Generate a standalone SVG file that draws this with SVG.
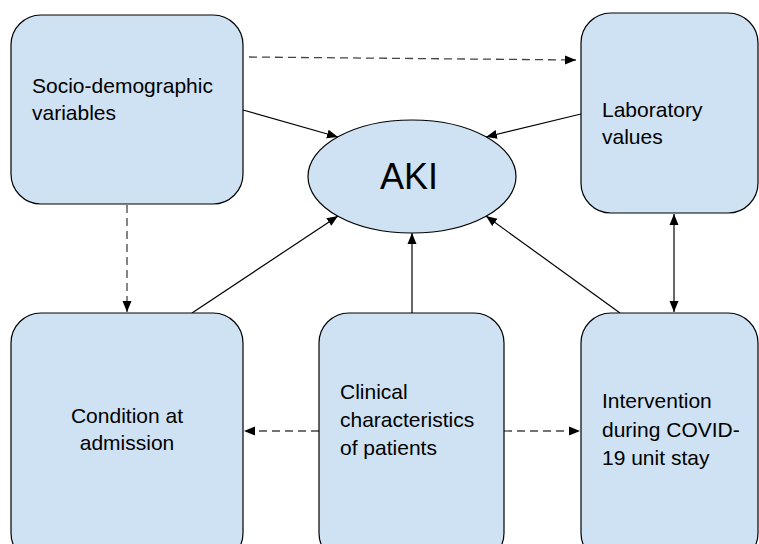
<svg xmlns="http://www.w3.org/2000/svg" width="759" height="544" viewBox="0 0 759 544">
<style>
.box{fill:#cfe2f3;stroke:#000;stroke-width:1.2}
.t{font-family:"Liberation Sans",Arial,sans-serif;font-size:21px;fill:#000}
.solid{stroke:#000;stroke-width:1.2;fill:none}
.dash{stroke:#444;stroke-width:1.3;fill:none;stroke-dasharray:8 5}
</style>
<defs>
<marker id="ah" markerUnits="userSpaceOnUse" markerWidth="12" markerHeight="10" viewBox="0 0 12 10" refX="11" refY="5" orient="auto-start-reverse">
<path d="M0,0.5 L11,5 L0,9.5 Z" fill="#000"/>
</marker>
</defs>
<rect width="759" height="544" fill="#fff"/>
<g id="connectors">
<line class="dash" x1="249" y1="57" x2="576" y2="60" marker-end="url(#ah)"/>
<line class="solid" x1="243" y1="110" x2="338" y2="137" marker-end="url(#ah)"/>
<line class="solid" x1="581" y1="114" x2="486" y2="137" marker-end="url(#ah)"/>
<line class="solid" x1="192" y1="313" x2="338" y2="216" marker-end="url(#ah)"/>
<line class="solid" x1="412" y1="313" x2="412" y2="233" marker-end="url(#ah)"/>
<line class="solid" x1="620" y1="313" x2="486" y2="216" marker-end="url(#ah)"/>
<line class="solid" x1="674" y1="214" x2="674" y2="312" marker-start="url(#ah)" marker-end="url(#ah)"/>
<line class="dash" x1="127" y1="205" x2="127" y2="312" marker-end="url(#ah)"/>
<line class="dash" x1="319" y1="431" x2="244" y2="431" marker-end="url(#ah)"/>
<line class="dash" x1="504" y1="431" x2="580" y2="431" marker-end="url(#ah)"/>
</g>
<g id="socio">
<rect class="box" x="11" y="15" width="232" height="189" rx="30" ry="30"/>
<text class="t" x="32" y="93">Socio-demographic</text>
<text class="t" x="32" y="120">variables</text>
</g>
<g id="lab">
<rect class="box" x="581" y="13" width="177" height="200" rx="30" ry="30"/>
<text class="t" x="602" y="117">Laboratory</text>
<text class="t" x="602" y="144">values</text>
</g>
<g id="aki">
<ellipse class="box" cx="412" cy="176.5" rx="104" ry="56.5"/>
<text class="t" x="380" y="189" style="font-size:36px">AKI</text>
</g>
<g id="condition">
<rect class="box" x="11" y="313" width="232" height="250" rx="30" ry="30"/>
<text class="t" x="127" y="423" text-anchor="middle">Condition at</text>
<text class="t" x="127" y="450" text-anchor="middle">admission</text>
</g>
<g id="clinical">
<rect class="box" x="319" y="313" width="185" height="250" rx="30" ry="30"/>
<text class="t" x="340" y="399">Clinical</text>
<text class="t" x="340" y="427">characteristics</text>
<text class="t" x="340" y="455">of patients</text>
</g>
<g id="intervention">
<rect class="box" x="581" y="313" width="177" height="250" rx="30" ry="30"/>
<text class="t" x="602" y="408">Intervention</text>
<text class="t" x="602" y="437">during COVID-</text>
<text class="t" x="602" y="465">19 unit stay</text>
</g>
</svg>
